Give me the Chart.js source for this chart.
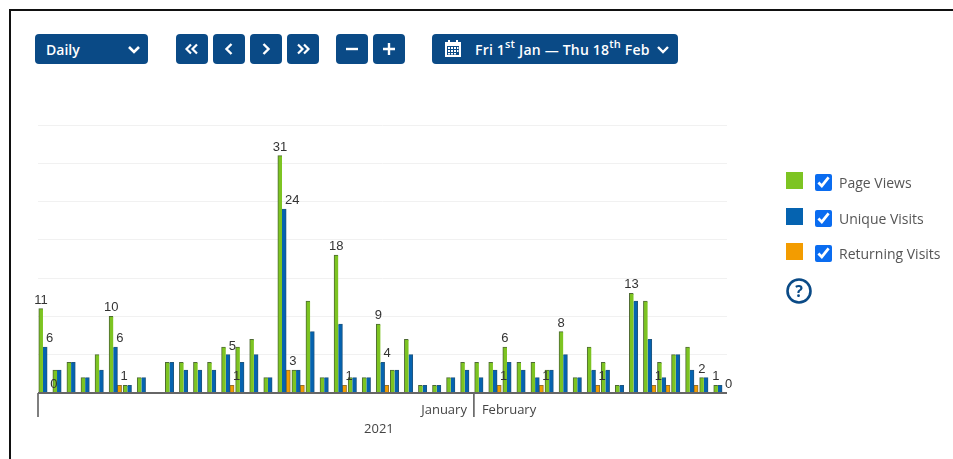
<!DOCTYPE html>
<html>
<head>
<meta charset="utf-8">
<script src="https://cdn.jsdelivr.net/npm/chart.js@4/dist/chart.umd.min.js"></script>
<style>
  html, body { margin: 0; padding: 0; background: #fff; }
  body { width: 953px; height: 459px; position: relative; overflow: hidden; font-family: "Open Sans", sans-serif; }
  #frame { position: absolute; left: 9px; top: 9px; width: 944px; height: 450px; border-left: 2px solid #111; border-top: 2px solid #111; box-sizing: border-box; }
  #chart { position: absolute; left: 0; top: 0; }
  .btn { position: absolute; top: 34px; height: 30px; background: #0a4a86; color: #fff; border-radius: 4px; display: flex; align-items: center; justify-content: center; font-size: 14px; font-weight: 600; box-sizing: border-box; }
  .btn svg { display: block; }
  .btn sup { font-size: 11px; line-height: 0; position: relative; top: -1px; vertical-align: super; }
  .legend-row { position: absolute; left: 786px; height: 20px; }
  .swatch { position: absolute; left: 0; top: 0; width: 17px; height: 17px; }
  .legend-row input { position: absolute; left: 29px; margin: 0; width: 17px; height: 17px; accent-color: #0a6cf0; }
  .legend-row span { position: absolute; left: 53px; font-size: 14px; color: #555; white-space: nowrap; }
</style>
</head>
<body>
<div id="frame"></div>
<canvas id="chart" width="953" height="459"></canvas>

<div class="btn" style="left:35px;width:113px;justify-content:flex-start;padding-left:11px">Daily
  <svg style="position:absolute;left:92px;top:11px" width="14" height="10" viewBox="0 0 14 10"><path d="M2 2 L7 7 L12 2" fill="none" stroke="#fff" stroke-width="2.6"/></svg></div>
<div class="btn" style="left:176px;width:32px"><svg width="16" height="12" viewBox="0 0 16 12"><path d="M7 1.5 L2.5 6 L7 10.5 M13 1.5 L8.5 6 L13 10.5" fill="none" stroke="#fff" stroke-width="2.2"/></svg></div>
<div class="btn" style="left:213px;width:32px"><svg width="10" height="14" viewBox="0 0 10 14"><path d="M7.5 2 L2.5 7 L7.5 12" fill="none" stroke="#fff" stroke-width="2.4"/></svg></div>
<div class="btn" style="left:250px;width:32px"><svg width="10" height="14" viewBox="0 0 10 14"><path d="M2.5 2 L7.5 7 L2.5 12" fill="none" stroke="#fff" stroke-width="2.4"/></svg></div>
<div class="btn" style="left:287px;width:32px"><svg width="16" height="12" viewBox="0 0 16 12"><path d="M3 1.5 L7.5 6 L3 10.5 M9 1.5 L13.5 6 L9 10.5" fill="none" stroke="#fff" stroke-width="2.2"/></svg></div>
<div class="btn" style="left:336px;width:32px"><svg width="14" height="14" viewBox="0 0 14 14"><path d="M1 7 H13" stroke="#fff" stroke-width="2.4"/></svg></div>
<div class="btn" style="left:373px;width:32px"><svg width="14" height="14" viewBox="0 0 14 14"><path d="M1 7 H13 M7 1 V13" stroke="#fff" stroke-width="2.4"/></svg></div>
<div class="btn" style="left:432px;width:246px;justify-content:flex-start">
  <svg style="position:absolute;left:12px;top:5px" width="18" height="19" viewBox="0 0 18 19"><path fill="#fff" d="M1 3 H4 V1 H6 V3 H12 V1 H14 V3 H17 V18 H1 Z"/><path fill="#0a4a86" d="M3 7 H15 V16 H3 Z"/><path fill="#fff" d="M4 8 h2 v2 h-2z M7 8 h2 v2 h-2z M10 8 h2 v2 h-2z M13 8 h1.5 v2 h-1.5z M4 11 h2 v2 h-2z M7 11 h2 v2 h-2z M10 11 h2 v2 h-2z M13 11 h1.5 v2 h-1.5z M4 14 h2 v1.5 h-2z M7 14 h2 v1.5 h-2z M10 14 h2 v1.5 h-2z"/></svg>
  <span style="position:absolute;left:43px;white-space:nowrap;letter-spacing:0.2px">Fri 1<sup>st</sup> Jan — Thu 18<sup>th</sup> Feb</span>
  <svg style="position:absolute;left:224px;top:11px" width="14" height="10" viewBox="0 0 14 10"><path d="M2 2 L7 7 L12 2" fill="none" stroke="#fff" stroke-width="2.4"/></svg></div>

<div id="legend"></div>
<svg style="position:absolute;left:786px;top:278px" width="26" height="26" viewBox="0 0 26 26"><circle cx="13" cy="13" r="11.5" fill="none" stroke="#0a4a86" stroke-width="2.6"/><text x="13" y="18.5" text-anchor="middle" font-family="Open Sans" font-weight="700" font-size="16" fill="#0a4a86">?</text></svg>

<script>
// Fri 1st Jan - Thu 18th Feb, one category per day
const days = [
  "1 Jan","2 Jan","3 Jan","4 Jan","5 Jan","6 Jan","7 Jan","8 Jan","9 Jan","10 Jan",
  "11 Jan","12 Jan","13 Jan","14 Jan","15 Jan","16 Jan","17 Jan","18 Jan","19 Jan","20 Jan",
  "21 Jan","22 Jan","23 Jan","24 Jan","25 Jan","26 Jan","27 Jan","28 Jan","29 Jan","30 Jan","31 Jan",
  "1 Feb","2 Feb","3 Feb","4 Feb","5 Feb","6 Feb","7 Feb","8 Feb","9 Feb","10 Feb",
  "11 Feb","12 Feb","13 Feb","14 Feb","15 Feb","16 Feb","17 Feb","18 Feb"
];
const pageViews = [11,3,4,2,5,10,1,2,0,4,4,4,4,6,6,7,2,31,3,12,2,18,2,2,9,3,7,1,1,2,4,4,4,6,4,4,3,8,2,6,4,1,13,12,4,5,6,2,1];
const uniqueVisits = [6,3,4,2,3,6,1,2,0,4,3,3,3,5,4,5,2,24,3,8,2,9,2,2,4,3,5,1,1,2,3,2,3,4,3,2,3,5,2,3,3,1,12,7,2,5,3,2,1];
const returningVisits = [0,0,0,0,0,1,0,0,0,0,0,0,0,1,0,0,0,3,1,0,0,1,0,0,1,0,0,0,0,0,0,0,1,0,0,1,0,0,0,1,0,0,0,1,1,0,1,0,0];

const seriesNames = ["Page Views","Unique Visits","Returning Visits"];
const seriesColors = ["#7dc422","#0563b0","#f39c00"];
const seriesEdges = ["#4f6b33","#1f5680","#96702c"];

// only these [series, day] values carry a label, the rest are hidden in the original
const labelled = [
  [0,0],[1,0],[2,0],[0,5],[1,5],[2,5],[1,13],[2,13],[0,17],[1,17],[2,17],[0,21],[2,21],
  [0,24],[1,24],[2,32],[0,33],[2,35],[0,37],[2,39],[0,42],[2,43],[0,47],[0,48],[2,48]
];
const months = ["January","February"];
const monthStarts = [0,31];
const yearLabel = "2021";

const valueLabels = {
  id: "valueLabels",
  afterDatasetsDraw(chart) {
    const ctx = chart.ctx;
    ctx.save();
    ctx.font = '13px "Liberation Sans"';
    ctx.fillStyle = "#333";
    ctx.textBaseline = "alphabetic";
    labelled.forEach(([s, d]) => {
      const meta = chart.getDatasetMeta(s);
      if (meta.hidden) return;
      const bar = meta.data[d];
      ctx.textAlign = s === 0 ? "center" : "left";
      ctx.fillText(chart.data.datasets[s].data[d], bar.x + (s === 0 ? 0 : 1), bar.y - 5);
    });
    ctx.restore();
  }
};

// two level axis under the bars: month names + year
const monthAxis = {
  id: "monthAxis",
  afterDraw(chart) {
    const ctx = chart.ctx;
    const x = chart.scales.x;
    const base = chart.chartArea.bottom;
    const step = x.width / days.length;
    const split = x.left + monthStarts[1] * step;
    ctx.save();
    ctx.strokeStyle = "#555";
    ctx.lineWidth = 1.5;
    ctx.beginPath();
    ctx.moveTo(x.left, base);
    ctx.lineTo(x.left, base + 24);
    ctx.moveTo(split, base);
    ctx.lineTo(split, base + 24);
    ctx.stroke();
    ctx.strokeStyle = "#666";
    ctx.lineWidth = 2;
    ctx.beginPath();
    ctx.moveTo(x.left, base);
    ctx.lineTo(x.right, base);
    ctx.stroke();
    ctx.font = '13px "Open Sans"';
    ctx.fillStyle = "#444";
    ctx.textAlign = "right";
    ctx.fillText(months[0], split - 7, base + 21);
    ctx.textAlign = "left";
    ctx.fillText(months[1], split + 8, base + 21);
    ctx.textAlign = "center";
    ctx.fillText(yearLabel, split - 95, base + 40);
    ctx.restore();
  }
};

const chart = new Chart(document.getElementById("chart"), {
  type: "bar",
  data: {
    labels: days,
    datasets: [pageViews, uniqueVisits, returningVisits].map((values, i) => ({
      label: seriesNames[i],
      data: values,
      backgroundColor: seriesColors[i],
      borderColor: seriesEdges[i],
      borderWidth: (c) => (c.raw === 0 ? 0 : { left: i === 1 ? 0 : 1, top: 1, right: i === 0 ? 0 : 1, bottom: 0 }),
      borderSkipped: false,
      inflateAmount: 0.4,
      categoryPercentage: 0.88,
      barPercentage: 1
    }))
  },
  options: {
    responsive: false,
    animation: false,
    layout: { padding: { left: 38, right: 226, top: 125, bottom: 58 } },
    plugins: { legend: { display: false }, tooltip: { enabled: false } },
    scales: {
      x: {
        grid: { display: false },
        border: { display: false },
        ticks: { display: false }
      },
      y: {
        min: 0,
        max: 35,
        ticks: { display: false, stepSize: 5 },
        grid: { color: "#f1f1f1", drawTicks: false, lineWidth: 1 },
        border: { display: false }
      }
    }
  },
  plugins: [valueLabels, monthAxis]
});

// legend on the right, checkboxes toggle the series
const tops = [172, 208, 243];
const legend = document.getElementById("legend");
seriesNames.forEach((name, i) => {
  const row = document.createElement("div");
  row.className = "legend-row";
  row.style.top = tops[i] + "px";
  row.innerHTML = '<div class="swatch" style="background:' + seriesColors[i] + '"></div>' +
    '<input type="checkbox" checked style="top:2px"><span style="top:1px">' + name + "</span>";
  row.querySelector("input").addEventListener("change", (e) => {
    chart.setDatasetVisibility(i, e.target.checked);
    chart.update();
  });
  legend.appendChild(row);
});
</script>
</body>
</html>
